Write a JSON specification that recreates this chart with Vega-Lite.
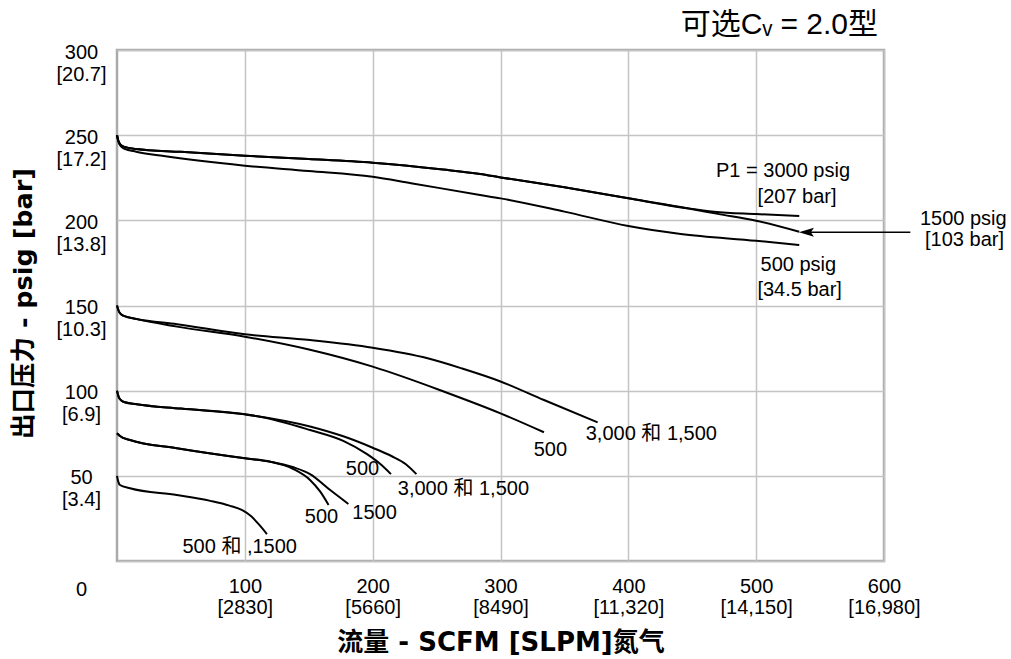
{
  "$schema": "https://vega.github.io/schema/vega-lite/v6.json",
  "width": 767,
  "height": 511,
  "autosize": {"type": "none"},
  "padding": {"left": 117, "top": 50, "right": 127, "bottom": 98},
  "background": "white",
  "title": {
    "text": "可选Cᵥ = 2.0型",
    "anchor": "end",
    "frame": "group",
    "fontSize": 30,
    "fontWeight": "normal",
    "font": "Liberation Sans, DejaVu Sans, Noto Sans CJK SC",
    "color": "black",
    "baseline": "alphabetic",
    "offset": -22,
    "dx": -6
  },
  "datasets": {
    "curves": [
      {"s": "3000U", "x": 0, "y": 250}, {"s": "3000U", "x": 1, "y": 246.8}, {"s": "3000U", "x": 3, "y": 244.2}, {"s": "3000U", "x": 6, "y": 243.1}, {"s": "3000U", "x": 15, "y": 241.9}, {"s": "3000U", "x": 50, "y": 240.2}, {"s": "3000U", "x": 100, "y": 237.9}, {"s": "3000U", "x": 150, "y": 236}, {"s": "3000U", "x": 200, "y": 233.8}, {"s": "3000U", "x": 255, "y": 229.8}, {"s": "3000U", "x": 284, "y": 227.2}, {"s": "3000U", "x": 300, "y": 225.2}, {"s": "3000U", "x": 350, "y": 219.4}, {"s": "3000U", "x": 400, "y": 212.9}, {"s": "3000U", "x": 446, "y": 207.1}, {"s": "3000U", "x": 467, "y": 205.1}, {"s": "3000U", "x": 500, "y": 203.7}, {"s": "3000U", "x": 533.7, "y": 202.5},
      {"s": "1500U", "x": 0, "y": 250}, {"s": "1500U", "x": 1, "y": 246.8}, {"s": "1500U", "x": 3, "y": 244.2}, {"s": "1500U", "x": 6, "y": 243.1}, {"s": "1500U", "x": 15, "y": 241.9}, {"s": "1500U", "x": 50, "y": 240.2}, {"s": "1500U", "x": 100, "y": 237.9}, {"s": "1500U", "x": 150, "y": 236}, {"s": "1500U", "x": 200, "y": 233.8}, {"s": "1500U", "x": 255, "y": 229.8}, {"s": "1500U", "x": 284, "y": 227.2}, {"s": "1500U", "x": 300, "y": 225.2}, {"s": "1500U", "x": 350, "y": 219.4}, {"s": "1500U", "x": 400, "y": 212.9}, {"s": "1500U", "x": 446, "y": 207.1}, {"s": "1500U", "x": 470, "y": 203.8}, {"s": "1500U", "x": 500, "y": 199.8}, {"s": "1500U", "x": 533.7, "y": 193.3},
      {"s": "500U", "x": 0, "y": 250}, {"s": "500U", "x": 1, "y": 246.5}, {"s": "500U", "x": 3, "y": 243.5}, {"s": "500U", "x": 6, "y": 241.9}, {"s": "500U", "x": 15, "y": 240.3}, {"s": "500U", "x": 34, "y": 238}, {"s": "500U", "x": 100, "y": 232.1}, {"s": "500U", "x": 150, "y": 229}, {"s": "500U", "x": 200, "y": 225.6}, {"s": "500U", "x": 230, "y": 221.8}, {"s": "500U", "x": 284, "y": 214.9}, {"s": "500U", "x": 300, "y": 212.9}, {"s": "500U", "x": 350, "y": 205.1}, {"s": "500U", "x": 400, "y": 196.7}, {"s": "500U", "x": 441, "y": 192}, {"s": "500U", "x": 500, "y": 188}, {"s": "500U", "x": 533.7, "y": 185.5},
      {"s": "M1", "x": 0, "y": 150}, {"s": "M1", "x": 1.8, "y": 146}, {"s": "M1", "x": 4.9, "y": 144}, {"s": "M1", "x": 15.4, "y": 142.1}, {"s": "M1", "x": 47, "y": 139}, {"s": "M1", "x": 100, "y": 133.1}, {"s": "M1", "x": 151, "y": 129.7}, {"s": "M1", "x": 200, "y": 125.2}, {"s": "M1", "x": 243, "y": 119}, {"s": "M1", "x": 270, "y": 113}, {"s": "M1", "x": 300, "y": 105.4}, {"s": "M1", "x": 334, "y": 94.5}, {"s": "M1", "x": 376, "y": 81.4},
      {"s": "M2", "x": 0, "y": 150}, {"s": "M2", "x": 1.8, "y": 146}, {"s": "M2", "x": 4.9, "y": 144}, {"s": "M2", "x": 15.4, "y": 142}, {"s": "M2", "x": 47, "y": 137.6}, {"s": "M2", "x": 100, "y": 131.7}, {"s": "M2", "x": 151, "y": 124}, {"s": "M2", "x": 200, "y": 114.1}, {"s": "M2", "x": 256, "y": 99.4}, {"s": "M2", "x": 300, "y": 86.7}, {"s": "M2", "x": 334, "y": 75.6},
      {"s": "L1", "x": 0, "y": 100}, {"s": "L1", "x": 1.8, "y": 95.5}, {"s": "L1", "x": 4.9, "y": 93.5}, {"s": "L1", "x": 15.4, "y": 92}, {"s": "L1", "x": 50, "y": 89.5}, {"s": "L1", "x": 100, "y": 86.1}, {"s": "L1", "x": 151, "y": 79}, {"s": "L1", "x": 177, "y": 73.2}, {"s": "L1", "x": 200, "y": 66.5}, {"s": "L1", "x": 215, "y": 61.5}, {"s": "L1", "x": 226, "y": 56.8}, {"s": "L1", "x": 234.2, "y": 51},
      {"s": "L2", "x": 0, "y": 100}, {"s": "L2", "x": 1.8, "y": 95.5}, {"s": "L2", "x": 4.9, "y": 93.5}, {"s": "L2", "x": 15.4, "y": 92}, {"s": "L2", "x": 50, "y": 89.5}, {"s": "L2", "x": 100, "y": 86.1}, {"s": "L2", "x": 112, "y": 84.7}, {"s": "L2", "x": 151, "y": 76.9}, {"s": "L2", "x": 177, "y": 70.5}, {"s": "L2", "x": 195.6, "y": 62.7}, {"s": "L2", "x": 206, "y": 56.9}, {"s": "L2", "x": 214.3, "y": 51},
      {"s": "L3", "x": 0, "y": 75}, {"s": "L3", "x": 2.3, "y": 73.4}, {"s": "L3", "x": 10.2, "y": 71}, {"s": "L3", "x": 46.8, "y": 66.2}, {"s": "L3", "x": 100, "y": 60.3}, {"s": "L3", "x": 120, "y": 58.3}, {"s": "L3", "x": 138, "y": 55}, {"s": "L3", "x": 151, "y": 51}, {"s": "L3", "x": 167, "y": 41.5}, {"s": "L3", "x": 181, "y": 33.5},
      {"s": "L4", "x": 0, "y": 75}, {"s": "L4", "x": 2.3, "y": 73.4}, {"s": "L4", "x": 10.2, "y": 71}, {"s": "L4", "x": 46.8, "y": 66.2}, {"s": "L4", "x": 100, "y": 60.3}, {"s": "L4", "x": 120, "y": 58.3}, {"s": "L4", "x": 138, "y": 54}, {"s": "L4", "x": 151, "y": 47.6}, {"s": "L4", "x": 159, "y": 40.7}, {"s": "L4", "x": 165.5, "y": 32.9},
      {"s": "L5", "x": 0, "y": 50}, {"s": "L5", "x": 1, "y": 46.6}, {"s": "L5", "x": 2.3, "y": 44.6}, {"s": "L5", "x": 10.2, "y": 42.7}, {"s": "L5", "x": 46.8, "y": 38.7}, {"s": "L5", "x": 73, "y": 35.3}, {"s": "L5", "x": 88, "y": 32.5}, {"s": "L5", "x": 98, "y": 29.8}, {"s": "L5", "x": 105, "y": 26.2}, {"s": "L5", "x": 111, "y": 21.5}, {"s": "L5", "x": 117.3, "y": 15.8}
    ],
    "labels": [
      {"t": "P1 = 3000 psig", "x": 521, "y": 229},
      {"t": "[207 bar]", "x": 532, "y": 213.5},
      {"t": "1500 psig", "x": 662, "y": 200.5},
      {"t": "[103 bar]", "x": 663, "y": 188.5},
      {"t": "500 psig", "x": 533, "y": 173.5},
      {"t": "[34.5 bar]", "x": 534, "y": 159},
      {"t": "3,000 和 1,500", "x": 418, "y": 74.5},
      {"t": "500", "x": 339, "y": 65},
      {"t": "500", "x": 192, "y": 54},
      {"t": "3,000 和 1,500", "x": 271, "y": 42.5},
      {"t": "500", "x": 160, "y": 26},
      {"t": "1500", "x": 201.5, "y": 28},
      {"t": "500 和 ,1500", "x": 96, "y": 8}
    ],
    "arrow": [{"x": 536, "x2": 620.6, "y": 193}],
    "head": [{"x": 539.3, "y": 193}]
  },
  "encoding": {
    "x": {
      "field": "x", "type": "quantitative",
      "scale": {"domain": [0, 600], "nice": false, "zero": false},
      "axis": {
        "values": [100, 200, 300, 400, 500, 600],
        "labelExpr": "[datum.label, '[' + (datum.value >= 400 ? format(datum.value * 28.3, ',.0f') : format(datum.value * 28.3, '.0f')) + ']']",
        "title": "流量 - SCFM [SLPM]氮气",
        "titleFont": "DejaVu Sans, Noto Sans CJK SC",
        "titleFontSize": 26,
        "titleFontWeight": "bold",
        "titleColor": "black",
        "titleY": 81,
        "titleBaseline": "middle",
        "labelFontSize": 20,
        "labelColor": "black",
        "labelBaseline": "top",
        "labelPadding": 15,
        "labelLineHeight": 21,
        "labelFlush": false,
        "labelOverlap": false,
        "ticks": false,
        "tickSize": 0,
        "domain": false,
        "grid": true,
        "gridColor": "#c4c4c4",
        "gridWidth": 1.5
      }
    },
    "y": {
      "field": "y", "type": "quantitative",
      "scale": {"domain": [0, 300], "nice": false, "zero": false},
      "axis": {
        "values": [0, 50, 100, 150, 200, 250, 300],
        "labelExpr": "datum.value == 0 ? '0' : [datum.label, '[' + format(datum.value * 0.0689476, '.1f') + ']']",
        "title": "出口压力 - psig [bar]",
        "titleFont": "DejaVu Sans, Noto Sans CJK SC",
        "titleFontSize": 25.5,
        "titleFontWeight": "bold",
        "titleColor": "black",
        "titleX": -94,
        "titleY": 253,
        "titleAngle": -90,
        "titleAlign": "center",
        "titleBaseline": "middle",
        "labelFontSize": 20,
        "labelColor": "black",
        "labelAlign": "center",
        "labelBaseline": "top",
        "labelPadding": 36,
        "labelLineHeight": 22,
        "labelOffset": {"condition": {"test": "datum.value == 0", "value": 18}, "value": -8},
        "labelFlush": false,
        "labelOverlap": false,
        "ticks": false,
        "tickSize": 0,
        "domain": false,
        "grid": true,
        "gridColor": "#c4c4c4",
        "gridWidth": 1.5
      }
    }
  },
  "layer": [
    {
      "data": {"name": "curves"},
      "mark": {"type": "line", "color": "black", "strokeWidth": 2, "interpolate": "monotone"},
      "encoding": {"detail": {"field": "s", "type": "nominal"}}
    },
    {
      "data": {"name": "labels"},
      "mark": {"type": "text", "fontSize": 20, "font": "Liberation Sans, Noto Sans CJK SC", "color": "black", "align": "center", "baseline": "middle"},
      "encoding": {"text": {"field": "t", "type": "nominal"}}
    },
    {
      "data": {"name": "arrow"},
      "mark": {"type": "rule", "color": "black", "strokeWidth": 1.3},
      "encoding": {"x2": {"field": "x2"}}
    },
    {
      "data": {"name": "head"},
      "mark": {"type": "point", "shape": "M-1,0L1,-0.6L0.6,0L1,0.6Z", "size": 225, "filled": true, "color": "black", "opacity": 1}
    }
  ],
  "config": {
    "font": "Liberation Sans, Noto Sans CJK SC",
    "view": {"stroke": "#aaaaaa", "strokeWidth": 2.5}
  }
}
